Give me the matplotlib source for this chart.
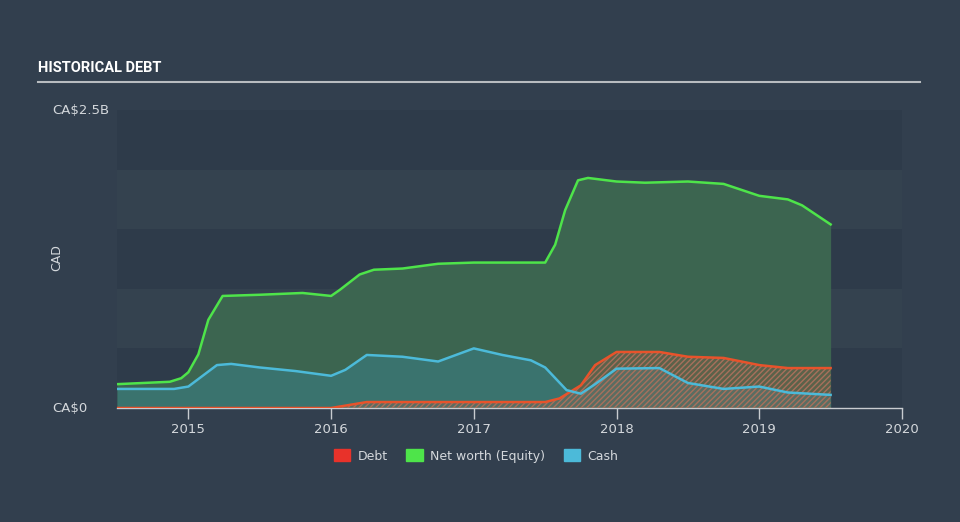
import matplotlib.pyplot as plt
import matplotlib.patches as mpatches
import numpy as np

# data (years, CA$ billions)
equity_x = [2014.5, 2014.87, 2014.95, 2015.0, 2015.07, 2015.14, 2015.24, 2015.5, 2015.8, 2016.0,
            2016.06, 2016.2, 2016.3, 2016.5, 2016.75, 2017.0, 2017.5, 2017.57, 2017.64, 2017.73,
            2017.8, 2018.0, 2018.2, 2018.5, 2018.75, 2019.0, 2019.2, 2019.3, 2019.5]
equity_y = [0.20, 0.22, 0.25, 0.30, 0.45, 0.74, 0.94, 0.95, 0.965, 0.94,
            0.99, 1.12, 1.16, 1.17, 1.21, 1.22, 1.22, 1.37, 1.66, 1.91,
            1.93, 1.90, 1.89, 1.90, 1.88, 1.78, 1.75, 1.70, 1.54]

cash_x = [2014.5, 2014.9, 2015.0, 2015.1, 2015.2, 2015.3, 2015.5, 2015.75, 2016.0, 2016.1,
          2016.25, 2016.5, 2016.75, 2017.0, 2017.2, 2017.4, 2017.5, 2017.65, 2017.75, 2017.85,
          2018.0, 2018.3, 2018.5, 2018.75, 2019.0, 2019.2, 2019.5]
cash_y = [0.16, 0.16, 0.18, 0.27, 0.36, 0.37, 0.34, 0.31, 0.27, 0.32,
          0.445, 0.43, 0.39, 0.50, 0.445, 0.40, 0.34, 0.15, 0.12, 0.20,
          0.33, 0.335, 0.21, 0.16, 0.18, 0.13, 0.11]

debt_x = [2014.5, 2016.0, 2016.1, 2016.25, 2017.5, 2017.6, 2017.75, 2017.85, 2018.0, 2018.3,
          2018.5, 2018.75, 2019.0, 2019.2, 2019.5]
debt_y = [0.0, 0.0, 0.02, 0.05, 0.05, 0.08, 0.19, 0.36, 0.47, 0.47,
          0.43, 0.42, 0.36, 0.335, 0.335]

years = [2015, 2016, 2017, 2018, 2019, 2020]
legend_names = ["Debt", "Net worth (Equity)", "Cash"]

bg = "#323f4e"
text_col = "#d4d8dc"
green = "#4ee44a"
blue = "#4cbad9"
red = "#e8532b"

fig = plt.figure(figsize=(9.6, 5.22), dpi=100, facecolor=bg)
ax = fig.add_axes([117 / 960, 1 - 408 / 522, 785 / 960, 298 / 522])
ax.set_facecolor(bg)
ax.set_xlim(2014.5, 2020)
ax.set_ylim(0, 2.5)

# alternating bands, very subtle
for i in range(5):
    c = "#2e3b4a" if i % 2 == 0 else "#34424f"
    ax.axhspan(i * 0.5, (i + 1) * 0.5, color=c, zorder=0, lw=0)

ax.fill_between(equity_x, equity_y, color="#3c6550", lw=0, zorder=1)
ax.fill_between(cash_x, cash_y, color="#3a736e", lw=0, zorder=2)
ax.fill_between(debt_x, debt_y, facecolor=(0.85, 0.35, 0.2, 0.2), lw=0, zorder=3)
ax.fill_between(debt_x, debt_y, facecolor="none", edgecolor="#a8705c", hatch="//////",
                lw=0, zorder=3)

ax.plot(equity_x, equity_y, color=green, lw=1.8, zorder=5)
ax.plot(debt_x, debt_y, color=red, lw=1.8, zorder=5)
ax.plot(cash_x, cash_y, color=blue, lw=1.8, zorder=6)

for s in ["top", "right", "left"]:
    ax.spines[s].set_visible(False)
ax.spines["bottom"].set_color("#c8ccd0")
ax.spines["bottom"].set_linewidth(1)
ax.set_yticks([])
ax.set_xticks(years)
ax.set_xticklabels([str(y) for y in years], color=text_col, fontsize=9.5)
ax.tick_params(axis="x", colors="#c8ccd0", length=8, width=1, pad=3, labelcolor=text_col)

ax.text(-0.083, 2.5, "CA\\$2.5B", transform=ax.get_yaxis_transform(), color=text_col,
        fontsize=9.5, ha="left", va="center")
ax.text(-0.083, 0, "CA\\$0", transform=ax.get_yaxis_transform(), color=text_col,
        fontsize=9.5, ha="left", va="center")
fig.text(57 / 960, 1 - 258 / 522, "CAD", rotation=90, color=text_col, fontsize=9,
         ha="center", va="center")

# title and rule
fig.text(38 / 960, 1 - 68 / 522, "HISTORICAL DEBT", color="white", fontsize=10.5,
         fontweight="bold", family="Roboto", ha="left", va="center")
fig.add_artist(plt.Line2D([38 / 960, 920 / 960], [1 - 82 / 522] * 2, color="#b8bcc0", lw=1.5))

handles = [mpatches.Patch(color=c) for c in ["#e8322a", green, blue]]
fig.legend(handles, legend_names, loc="center", bbox_to_anchor=(476 / 960, 1 - 456 / 522),
           ncol=3, frameon=False, fontsize=9, labelcolor=text_col, handlelength=1.3,
           handleheight=1.1, columnspacing=1.5, handletextpad=0.6)

plt.savefig("out.png", dpi=100, facecolor=bg)
plt.close()
